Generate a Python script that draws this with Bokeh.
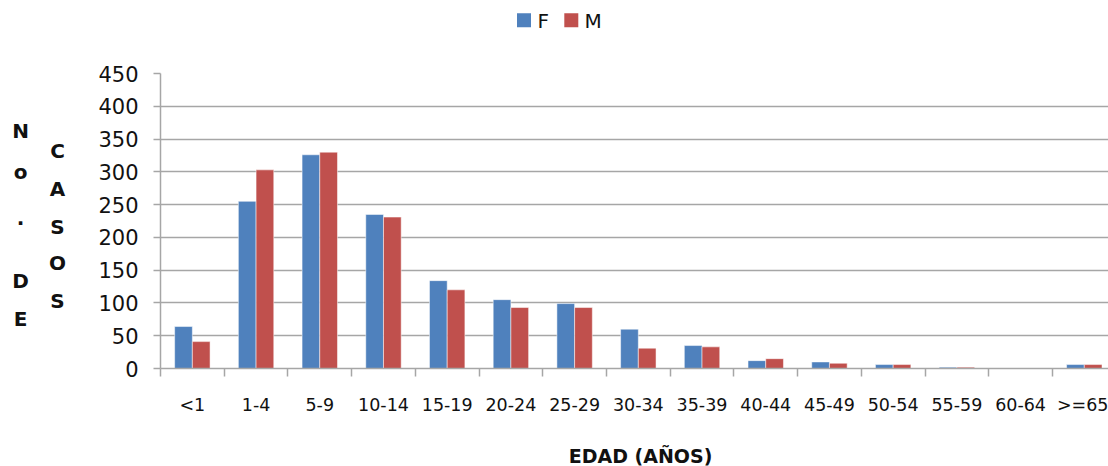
from bokeh.plotting import figure
from bokeh.layouts import column, row
from bokeh.models import Range1d, FixedTicker, CustomJSTickFormatter
from bokeh.core.properties import value
from bokeh.embed import file_html
from bokeh.resources import INLINE

# Age groups and case counts by sex
age_groups = ["<1", "1-4", "5-9", "10-14", "15-19", "20-24", "25-29", "30-34",
              "35-39", "40-44", "45-49", "50-54", "55-59", "60-64", ">=65"]
cases_f = [64, 255, 326, 235, 134, 105, 99, 60, 35, 12, 10, 6, 2, 0, 6]
cases_m = [41, 303, 330, 231, 120, 93, 93, 31, 33, 15, 8, 6, 2, 0, 6]
y_ticks = [0, 50, 100, 150, 200, 250, 300, 350, 400, 450]
series_names = ["F", "M"]

# vertical title "No. DE CASOS", one letter per line in two columns
title_col1 = ["N", "o", ".", "D", "E"]
title_col2 = ["C", "A", "S", "O", "S"]
x_title = "EDAD (AÑOS)"

BLUE = "#4F81BD"
RED = "#C0504D"
GRID = "#a6a6a6"
TEXT = "#111111"
FONT = "DejaVu Sans"
BAR_W = 0.278

W, H = 1108, 466
TOP_H, BOTTOM_H, LEFT_W = 40, 36, 90
MID_H = H - TOP_H - BOTTOM_H
BORDER_TOP, BORDER_BOTTOM = 33, 62
FRAME_TOP = TOP_H + BORDER_TOP              # page y of the 450 gridline
FRAME_BOTTOM = TOP_H + MID_H - BORDER_BOTTOM  # page y of the zero line


def blank(width, height, y_range, **kw):
    """A bare figure used only to hold text and swatches."""
    f = figure(width=width, height=height, output_backend="svg",
               toolbar_location=None, x_axis_location=None,
               y_axis_location=None, x_range=Range1d(0, width),
               y_range=y_range, **kw)
    f.outline_line_color = None
    f.grid.visible = False
    return f


# ---- main chart ---------------------------------------------------------
n = len(age_groups)
x_f = [i + 0.5 - BAR_W / 2 for i in range(n)]
x_m = [i + 0.5 + BAR_W / 2 for i in range(n)]

p = figure(width=W - LEFT_W, height=MID_H, output_backend="svg",
           toolbar_location=None, x_range=Range1d(0, 14.88),
           y_range=Range1d(0, 450), min_border_left=70, min_border_right=0,
           min_border_top=BORDER_TOP, min_border_bottom=BORDER_BOTTOM)
p.outline_line_color = None

p.vbar(x=x_f, top=cases_f, width=BAR_W, fill_color=BLUE,
       line_color="white", line_alpha=0.5, line_width=1)
p.vbar(x=x_m, top=cases_m, width=BAR_W, fill_color=RED,
       line_color="white", line_alpha=0.5, line_width=1)

# x axis: labels at category centres, small ticks at the boundaries
xa = p.xaxis[0]
xa.ticker = FixedTicker(ticks=[i + 0.5 for i in range(n)],
                        minor_ticks=list(range(n + 1)))
xa.formatter = CustomJSTickFormatter(args=dict(labels=age_groups),
                                     code="return labels[Math.floor(tick)]")
xa.major_tick_out = 0
xa.major_tick_in = 0
xa.minor_tick_out = 8
xa.minor_tick_in = 0
xa.minor_tick_line_color = GRID
xa.minor_tick_line_width = 1.5
xa.axis_line_color = GRID
xa.axis_line_width = 1.5
xa.major_label_standoff = 18
xa.major_label_text_font = FONT
xa.major_label_text_font_size = "17.5px"
xa.major_label_text_color = TEXT

ya = p.yaxis[0]
ya.ticker = FixedTicker(ticks=y_ticks)
ya.major_tick_out = 7
ya.major_tick_in = 0
ya.minor_tick_line_color = None
ya.major_tick_line_color = GRID
ya.major_tick_line_width = 1.5
ya.axis_line_color = GRID
ya.axis_line_width = 1.5
ya.major_label_standoff = 15
ya.major_label_text_font = FONT
ya.major_label_text_font_size = "21px"
ya.major_label_text_color = TEXT

p.xgrid.visible = False
p.ygrid.grid_line_color = GRID
p.ygrid.grid_line_width = 1.5

# ---- legend strip (y in page pixels, growing downwards) ------------------
top = blank(W, TOP_H, Range1d(TOP_H, 0), min_border=0)
top.rect(x=[523.5, 570.8], y=[19.7, 19.7], width=14, height=14,
         fill_color=[BLUE, RED], line_color=None)
top.text(x=[537, 584], y=[20.5, 20.5], text=series_names,
         text_align="left", text_baseline="middle", text_font=value(FONT),
         text_font_size="20px", text_color=TEXT)

# ---- vertical axis title (frame aligned with the chart's frame) ----------
left = blank(LEFT_W, MID_H, Range1d(FRAME_BOTTOM, FRAME_TOP),
             min_border_left=0, min_border_right=0,
             min_border_top=BORDER_TOP, min_border_bottom=BORDER_BOTTOM)
left.text(x=[20] * 5, y=[130.7, 171.5, 217.0, 280.0, 318.0], text=title_col1,
          text_align="center", text_baseline="middle",
          text_font=value(FONT), text_font_style="bold",
          text_font_size="20px", text_color=TEXT)
left.text(x=[57] * 5, y=[150.7, 188.3, 226.0, 262.7, 300.7], text=title_col2,
          text_align="center", text_baseline="middle",
          text_font=value(FONT), text_font_style="bold",
          text_font_size="20px", text_color=TEXT)

# ---- horizontal axis title ----------------------------------------------
bottom = blank(W, BOTTOM_H, Range1d(BOTTOM_H, 0), min_border=0)
bottom.text(x=[640], y=[25], text=[x_title], text_align="center",
            text_baseline="middle", text_font=value(FONT),
            text_font_style="bold", text_font_size="19px", text_color=TEXT)

layout = column(top, row(left, p, spacing=0), bottom, spacing=0)
open("out.html", "w").write(file_html(layout, INLINE))
